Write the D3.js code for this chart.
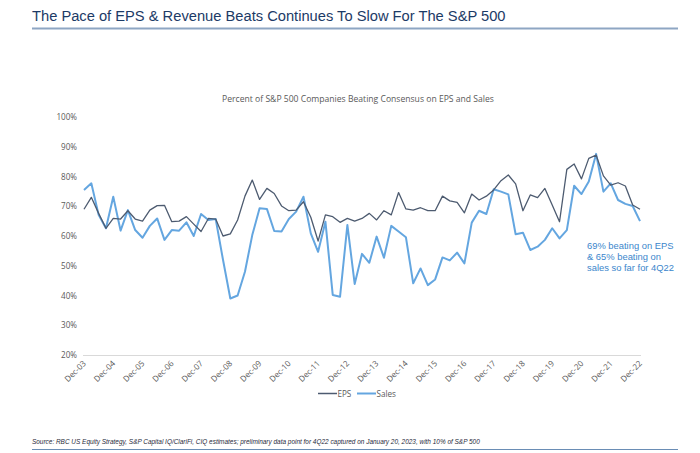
<!DOCTYPE html>
<html>
<head>
<meta charset="utf-8">
<script src="https://cdn.jsdelivr.net/npm/d3@7"></script>
<style>
  html, body { margin: 0; padding: 0; background: #ffffff; }
  svg { display: block; }
</style>
</head>
<body>
<svg id="chart" width="700" height="453"></svg>
<script>
// ---- data ----
const eps = [69.0,73.0,67.6,62.6,65.9,65.7,68.5,65.7,65.0,68.7,
             70.2,70.3,64.8,65.0,66.5,64.0,61.5,65.9,65.7,60.0,
             60.7,65.4,73.4,78.8,72.3,76.0,74.3,70.1,68.5,68.7,
             71.5,66.3,58.3,67.1,66.5,64.6,65.9,65.0,65.9,67.6,
             65.4,68.5,67.1,74.6,69.1,68.7,69.5,68.5,68.5,73.4,
             71.8,71.3,67.8,74.1,72.1,73.4,75.5,78.6,80.5,77.5,
             68.5,73.8,72.9,76.0,70.4,64.8,82.4,84.2,79.2,86.1,
             87.2,80.2,77.1,77.9,76.8,70.4,69.0];
const sales = [75.5,77.7,67.1,62.6,73.2,61.8,68.7,62.0,59.4,63.4,
               65.9,58.7,62.0,61.8,64.6,60.0,67.4,65.4,65.7,52.0,
               39.0,40.0,48.0,60.3,69.3,69.1,61.7,61.5,65.7,68.2,
               73.2,60.9,54.7,64.8,40.2,39.6,63.7,43.9,54.0,51.0,
               59.8,52.7,63.4,61.5,59.6,44.1,49.1,43.5,45.4,52.8,
               51.8,54.4,50.8,64.5,68.5,67.4,75.7,74.9,74.0,60.6,
               61.1,55.3,56.4,58.7,62.6,59.2,62.0,76.9,74.1,78.3,
               87.6,74.9,77.7,72.1,70.8,70.1,65.0];
const months = ["Mar","Jun","Sep","Dec"];
// quarters Dec-03 .. Dec-22
const quarters = [];
quarters.push("Dec-03");
for (let y = 4; y <= 22; y++) {
  for (const m of months) quarters.push(m + "-" + String(y).padStart(2, "0"));
}
const xTickLabels = ["Dec-03","Dec-04","Dec-05","Dec-06","Dec-07","Dec-08","Dec-09","Dec-10","Dec-11","Dec-12",
                     "Dec-13","Dec-14","Dec-15","Dec-16","Dec-17","Dec-18","Dec-19","Dec-20","Dec-21","Dec-22"];
const yTicks = [20,30,40,50,60,70,80,90,100];
const seriesNames = ["EPS","Sales"];
const annotationLines = ["69% beating on EPS","& 65% beating on","sales so far for 4Q22"];

// ---- drawing ----
const svg = d3.select("#chart");
const colEPS = "#4d5b70", colSales = "#64a6e0";

// title
svg.append("text").attr("x", 32).attr("y", 21)
  .attr("font-family", "Liberation Sans, Arial, sans-serif").attr("font-size", 14.7)
  .attr("fill", "#1c3a66").text("The Pace of EPS & Revenue Beats Continues To Slow For The S&P 500");
svg.append("line").attr("x1", 32).attr("x2", 678).attr("y1", 28.5).attr("y2", 28.5)
  .attr("stroke", "#8ea6c3").attr("stroke-width", 2);

// chart title
svg.append("text").attr("x", 358).attr("y", 102).attr("text-anchor", "middle")
  .attr("font-family", "Open Sans, Noto Sans, sans-serif").attr("font-size", 8.6)
  .attr("fill", "#595959").text("Percent of S&P 500 Companies Beating Consensus on EPS and Sales");

const x = d3.scalePoint().domain(quarters).range([84, 640]);
const y = d3.scaleLinear().domain([20, 100]).range([355, 117]);

// y axis labels
const yAxis = svg.append("g").attr("transform", "translate(77,0)")
  .call(d3.axisLeft(y).tickValues(yTicks).tickSize(0).tickPadding(0).tickFormat(d => d + "%"));
yAxis.select(".domain").remove();
yAxis.selectAll("text").attr("font-family", "Open Sans, Noto Sans, sans-serif")
  .attr("font-size", 8.1).attr("fill", "#595959");

// x axis
const xAxis = svg.append("g").attr("transform", "translate(0,355)")
  .call(d3.axisBottom(x).tickValues(xTickLabels).tickSize(0).tickPadding(0));
xAxis.select(".domain").attr("stroke", "#d9d9d9").attr("stroke-width", 1)
  .attr("d", "M83,0.5H641");
xAxis.selectAll("text")
  .attr("font-family", "Open Sans, Noto Sans, sans-serif").attr("font-size", 8.1).attr("fill", "#595959")
  .attr("text-anchor", "end").attr("dy", null)
  .attr("transform", "translate(2,9) rotate(-45)");

// lines
const line = d3.line().x((d, i) => x(quarters[i])).y(d => y(d));
svg.append("path").datum(sales).attr("d", line).attr("fill", "none")
  .attr("stroke", colSales).attr("stroke-width", 2).attr("stroke-linejoin", "round");
svg.append("path").datum(eps).attr("d", line).attr("fill", "none")
  .attr("stroke", colEPS).attr("stroke-width", 1.3).attr("stroke-linejoin", "round");

// legend
const legend = svg.append("g").attr("font-family", "Open Sans, Noto Sans, sans-serif")
  .attr("font-size", 8.1).attr("fill", "#595959");
const legItems = [{name: seriesNames[0], c: colEPS, w: 1.5, x: 318},
                  {name: seriesNames[1], c: colSales, w: 2, x: 357}];
legItems.forEach(it => {
  legend.append("line").attr("x1", it.x).attr("x2", it.x + 19).attr("y1", 393.5).attr("y2", 393.5)
    .attr("stroke", it.c).attr("stroke-width", it.w);
  legend.append("text").attr("x", it.x + 19.5).attr("y", 396.5).text(it.name);
});

// annotation
const ann = svg.append("text").attr("font-family", "Liberation Sans, Arial, sans-serif")
  .attr("font-size", 9.4).attr("fill", "#3b86cc");
annotationLines.forEach((t, i) => {
  ann.append("tspan").attr("x", 587).attr("y", 249 + i * 11).text(t);
});

// source
svg.append("text").attr("x", 32).attr("y", 444)
  .attr("font-family", "Liberation Sans, Arial, sans-serif").attr("font-size", 6.45)
  .attr("font-style", "italic").attr("fill", "#1f2a3a")
  .text("Source: RBC US Equity Strategy, S&P Capital IQ/ClariFi, CIQ estimates; preliminary data point for 4Q22 captured on January 20, 2023, with 10% of S&P 500");
svg.append("line").attr("x1", 32).attr("x2", 678).attr("y1", 449.5).attr("y2", 449.5)
  .attr("stroke", "#6a8db5").attr("stroke-width", 1);
</script>
</body>
</html>
